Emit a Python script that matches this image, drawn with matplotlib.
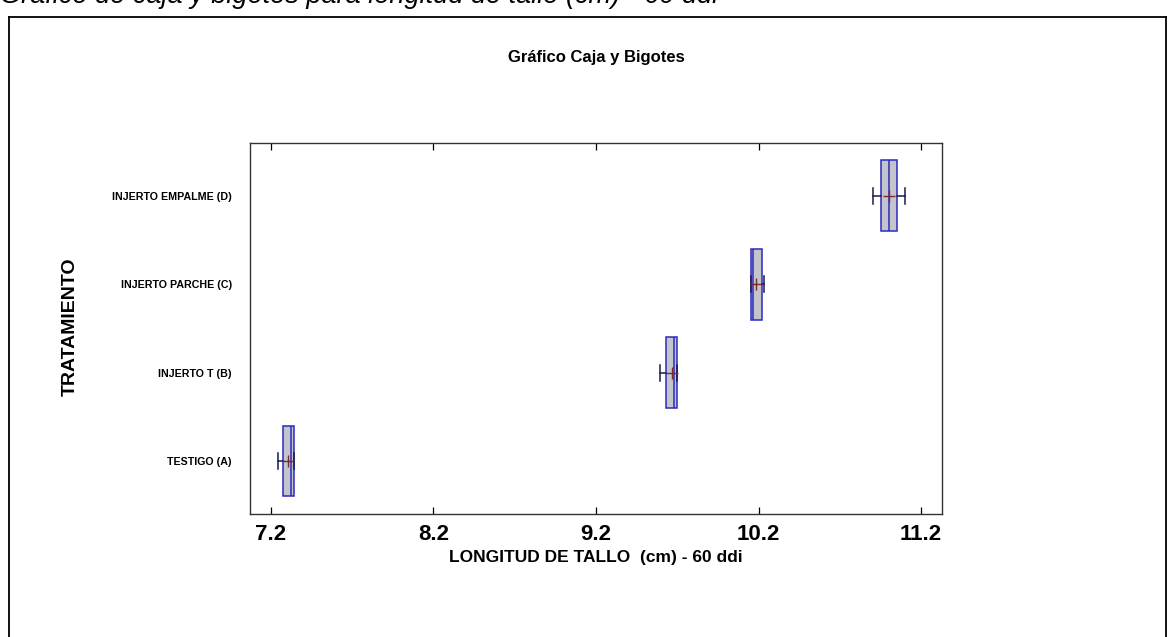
import matplotlib.pyplot as plt
from matplotlib.lines import Line2D

plt.rcParams['font.family'] = ['Liberation Sans', 'DejaVu Sans']

# Boxplot summaries per treatment (cm)
tratamientos = ["TESTIGO (A)", "INJERTO T (B)", "INJERTO PARCHE (C)", "INJERTO EMPALME (D)"]
q1 = [7.272, 9.629, 10.152, 10.956]
mediana = [7.321, 9.680, 10.166, 11.005]
q3 = [7.343, 9.700, 10.223, 11.054]
minimo = [7.245, 9.594, 10.152, 10.906]
maximo = [7.343, 9.700, 10.236, 11.102]
media = [7.303, 9.668, 10.183, 11.000]
xticks = [7.2, 8.2, 9.2, 10.2, 11.2]

fig = plt.figure(figsize=(11.69, 6.37), dpi=100)

# outer frame and caption on top
W, H = 1169, 637
fig.add_artist(Line2D([9 / W, 9 / W], [0, 1 - 17 / H], color='black', lw=1.3))
fig.add_artist(Line2D([9 / W, 1166 / W], [1 - 17 / H, 1 - 17 / H], color='black', lw=1.3))
fig.add_artist(Line2D([1166 / W, 1166 / W], [0, 1 - 17 / H], color='black', lw=1.3))
fig.text(0.0, 1 - 9 / H, "Gráfico de caja y bigotes para longitud de tallo (cm) - 60 ddi",
         fontsize=19.5, style='italic', ha='left', va='bottom')

ax = fig.add_axes([250 / W, 1 - 514 / H, (942 - 250) / W, (514 - 142.7) / H])

stats = []
for i, t in enumerate(tratamientos):
    stats.append(dict(label=t, q1=q1[i], med=mediana[i], q3=q3[i],
                      whislo=minimo[i], whishi=maximo[i], mean=media[i], fliers=[]))

pos = list(range(1, len(tratamientos) + 1))
ax.bxp(stats, positions=pos, vert=False, widths=0.8, patch_artist=True,
       showmeans=True, showfliers=False,
       boxprops=dict(facecolor='#c4c4cc', edgecolor='#2b2bbf', linewidth=1.1),
       medianprops=dict(color='#2b2bbf', linewidth=1.1),
       whiskerprops=dict(color='#1a1a4d', linewidth=1.1),
       capprops=dict(color='#1a1a4d', linewidth=1.1),
       capwidths=0.18,
       meanprops=dict(marker='+', markeredgecolor='#7a2a2a', markersize=8,
                      markeredgewidth=1.0))

ax.set_xlim(7.071, 11.329)
ax.set_ylim(0.4, 4.6)
ax.set_xticks(xticks)
ax.set_xticklabels([f"{v:.1f}" for v in xticks], fontsize=16, fontweight='bold')
ax.set_yticks(pos)
ax.set_yticklabels(tratamientos, fontsize=7.7, fontweight='bold')
ax.tick_params(axis='x', direction='in', length=5, top=True, pad=7, width=0.9)
ax.tick_params(axis='y', length=0, pad=13)
for s in ax.spines.values():
    s.set_linewidth(1.0)
    s.set_color('#333333')

ax.set_xlabel("LONGITUD DE TALLO  (cm) - 60 ddi", fontsize=12.5, fontweight='bold',
              labelpad=4)
fig.text(70 / W, 1 - 327 / H, "TRATAMIENTO", rotation=90, fontsize=14,
         fontweight='bold', ha='center', va='center')
ax.set_title("Gráfico Caja y Bigotes", fontsize=12, fontweight='bold', pad=58)

fig.savefig('out.png', dpi=100)
